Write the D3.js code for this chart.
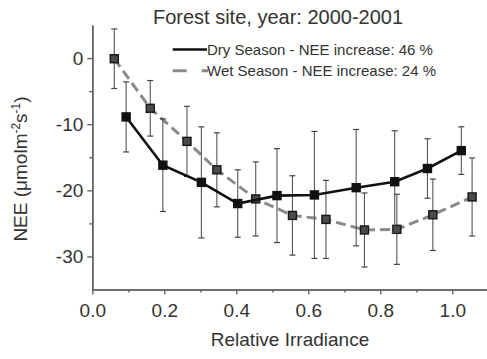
<!DOCTYPE html>
<html>
<head>
<meta charset="utf-8">
<script src="https://cdn.jsdelivr.net/npm/d3@7"></script>
<style>
  html, body { margin: 0; padding: 0; background: #fff; }
  svg { display: block; font-family: "Liberation Sans", Arial, sans-serif; }
</style>
</head>
<body>
<svg id="chart" width="487" height="359"></svg>
<script>
// Dry season: relative irradiance, mean NEE and error (± one bar half-length)
const dryX   = [0.094, 0.196, 0.303, 0.404, 0.513, 0.617, 0.733, 0.840, 0.931, 1.025];
const dryNEE = [-8.9, -16.2, -18.8, -22.0, -20.8, -20.7, -19.6, -18.7, -16.7, -14.0];
const dryErr = [5.3, 7.0, 8.4, 5.1, 7.1, 9.6, 8.8, 7.7, 4.5, 3.6];

// Wet season
const wetX   = [0.061, 0.161, 0.263, 0.346, 0.454, 0.556, 0.649, 0.756, 0.846, 0.946, 1.055];
const wetNEE = [-0.1, -7.6, -12.6, -16.9, -21.3, -23.8, -24.4, -26.0, -25.9, -23.7, -21.0];
const wetErr = [4.5, 4.2, 5.3, 5.6, 5.6, 6.0, 5.9, 5.6, 5.3, 5.4, 5.9];

const xTicks = [0, 0.2, 0.4, 0.6, 0.8, 1.0];
const xMinor = [0.1, 0.3, 0.5, 0.7, 0.9];
const yTicks = [-30, -20, -10, 0];
const yMinor = [-25, -15, -5];

const titleText = "Forest site, year: 2000-2001";
const dryLabel = "Dry Season - NEE increase: 46 %";
const wetLabel = "Wet Season - NEE increase: 24 %";

const svg = d3.select("#chart");
const x = d3.scaleLinear().domain([0, 1.1]).range([92.3, 488.3]);
const y = d3.scaleLinear().domain([-35, 5]).range([289.5, 25]);

const axisColor = "#666";
const textColor = "#333";

function styleAxis(g) {
  g.select(".domain").attr("stroke", axisColor).attr("stroke-width", 1.6);
  g.selectAll(".tick line").attr("stroke", axisColor).attr("stroke-width", 1.4);
  g.selectAll(".tick text").attr("fill", textColor).style("font-size", "19px")
    .style("font-family", "'Liberation Sans', Arial, sans-serif");
}

// minor ticks first, so the major axis draws over them
svg.append("g").attr("transform", `translate(0,${y(-35)})`)
  .call(d3.axisBottom(x).tickValues(xMinor).tickSize(3).tickSizeOuter(0).tickFormat(""))
  .call(styleAxis);
svg.append("g").attr("transform", `translate(${x(0)},0)`)
  .call(d3.axisLeft(y).tickValues(yMinor).tickSize(3).tickSizeOuter(0).tickFormat(""))
  .call(styleAxis);

const xAxis = svg.append("g").attr("transform", `translate(0,${y(-35)})`)
  .call(d3.axisBottom(x).tickValues(xTicks).tickSize(5).tickSizeOuter(0).tickPadding(6)
    .tickFormat(d3.format(".1f")))
  .call(styleAxis);
xAxis.selectAll(".tick text").attr("dy", "0.85em");

const yAxis = svg.append("g").attr("transform", `translate(${x(0)},0)`)
  .call(d3.axisLeft(y).tickValues(yTicks).tickSize(5).tickSizeOuter(0).tickPadding(4)
    .tickFormat(d => d === 0 ? "0" : "-" + Math.abs(d)))
  .call(styleAxis);

// Series builder: error bars, connecting line, square markers
function drawSeries(xs, vals, errs, opt) {
  const pts = xs.map((v, i) => ({ x: v, y: vals[i], e: errs[i] }));
  const g = svg.append("g");
  const eb = g.selectAll(".eb").data(pts).enter().append("g");
  eb.append("line")
    .attr("x1", d => x(d.x)).attr("x2", d => x(d.x))
    .attr("y1", d => y(d.y + d.e)).attr("y2", d => y(d.y - d.e))
    .attr("stroke", "#555").attr("stroke-width", 1.1);
  [1, -1].forEach(s => {
    eb.append("line")
      .attr("x1", d => x(d.x) - 3).attr("x2", d => x(d.x) + 3)
      .attr("y1", d => y(d.y + s * d.e)).attr("y2", d => y(d.y + s * d.e))
      .attr("stroke", "#444").attr("stroke-width", 1.2);
  });
  g.append("path").datum(pts)
    .attr("d", d3.line().x(d => x(d.x)).y(d => y(d.y)))
    .attr("fill", "none").attr("stroke", opt.color).attr("stroke-width", opt.width)
    .attr("stroke-dasharray", opt.dash || null);
  g.selectAll(".m").data(pts).enter().append("rect")
    .attr("x", d => x(d.x) - 4).attr("y", d => y(d.y) - 4)
    .attr("width", 8).attr("height", 8)
    .attr("fill", opt.fill).attr("stroke", opt.mstroke).attr("stroke-width", 1.4);
}

drawSeries(wetX, wetNEE, wetErr, { color: "#8a8a8a", width: 3, dash: "10,5", fill: "#4a4a4a", mstroke: "#161616" });
drawSeries(dryX, dryNEE, dryErr, { color: "#111", width: 2.6, fill: "#111", mstroke: "#111" });

// Title
svg.append("text").attr("x", 278).attr("y", 24).attr("text-anchor", "middle")
  .style("font-size", "20px").attr("fill", textColor).text(titleText);

// Legend
const lg = svg.append("g");
lg.append("line").attr("x1", 172.7).attr("x2", 207).attr("y1", 49.5).attr("y2", 49.5)
  .attr("stroke", "#111").attr("stroke-width", 2.6);
lg.append("line").attr("x1", 172.7).attr("x2", 208).attr("y1", 70.7).attr("y2", 70.7)
  .attr("stroke", "#8a8a8a").attr("stroke-width", 3).attr("stroke-dasharray", "14,15,7");
lg.append("text").attr("x", 207).attr("y", 55).style("font-size", "15px")
  .attr("fill", textColor).text(dryLabel);
lg.append("text").attr("x", 207).attr("y", 76).style("font-size", "15px")
  .attr("fill", textColor).text(wetLabel);

// Axis titles
svg.append("text").attr("x", 290).attr("y", 346).attr("text-anchor", "middle")
  .style("font-size", "19px").attr("fill", textColor).text("Relative Irradiance");

const yl = svg.append("text")
  .attr("transform", `translate(27,169) rotate(-90)`)
  .attr("text-anchor", "middle")
  .style("font-size", "19px").attr("fill", textColor);
yl.append("tspan").text("NEE (\u03bcmolm");
yl.append("tspan").attr("dy", -7).style("font-size", "12px").text("-2");
yl.append("tspan").attr("dy", 7).text("s");
yl.append("tspan").attr("dy", -7).style("font-size", "12px").text("-1");
yl.append("tspan").attr("dy", 7).text(")");
</script>
</body>
</html>
